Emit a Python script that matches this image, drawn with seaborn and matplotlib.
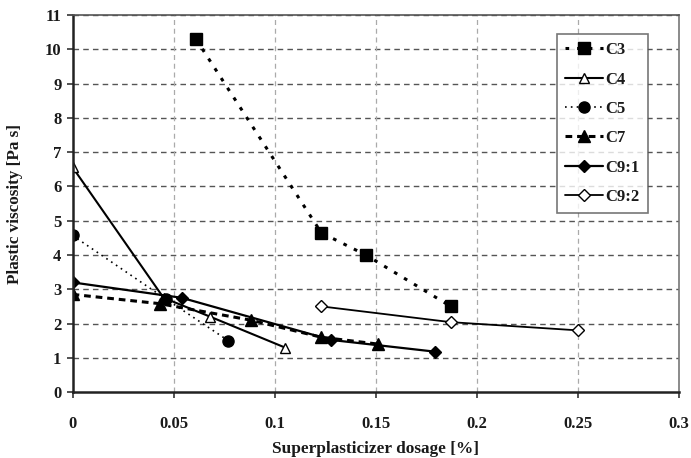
import numpy as np
import pandas as pd
import matplotlib
matplotlib.use("Agg")
import matplotlib.pyplot as plt
import seaborn as sns

# data
c3_x = [0.061, 0.123, 0.145, 0.187]
c3_y = [10.3, 4.65, 4.0, 2.5]

c4_x = [0.0, 0.045, 0.068, 0.105]
c4_y = [6.56, 2.75, 2.2, 1.3]

c5_x = [0.0, 0.046, 0.077]
c5_y = [4.57, 2.72, 1.5]

c7_x = [0.0, 0.043, 0.088, 0.123, 0.151]
c7_y = [2.85, 2.58, 2.1, 1.6, 1.4]

c91_x = [0.0, 0.054, 0.128, 0.179]
c91_y = [3.2, 2.75, 1.52, 1.18]

c92_x = [0.123, 0.187, 0.25]
c92_y = [2.5, 2.04, 1.8]

x_ticks = [0, 0.05, 0.1, 0.15, 0.2, 0.25, 0.3]
x_tick_labels = ["0", "0.05", "0.1", "0.15", "0.2", "0.25", "0.3"]
y_ticks = list(range(0, 12))

sns.set_style("white")
plt.rcParams["font.family"] = ["Liberation Serif", "DejaVu Serif"]
plt.rcParams["font.weight"] = "bold"

txt = "#1a1a1a"

fig = plt.figure(figsize=(6.91, 4.58), dpi=100)
ax = fig.add_axes([0.105, 0.144, 0.878, 0.823])

series = [
    ("C3", c3_x, c3_y, dict(marker="s", markersize=8.5, markerfacecolor="black",
                            linestyle=(0, (1.2, 2.6)), linewidth=2.2)),
    ("C4", c4_x, c4_y, dict(marker="^", markersize=7.5, markerfacecolor="white",
                            linestyle="-", linewidth=1.5)),
    ("C5", c5_x, c5_y, dict(marker="o", markersize=8, markerfacecolor="black",
                            linestyle=(0, (1, 2.5)), linewidth=1.2)),
    ("C7", c7_x, c7_y, dict(marker="^", markersize=8, markerfacecolor="black",
                            linestyle=(0, (2.2, 1.6)), linewidth=2.2)),
    ("C9:1", c91_x, c91_y, dict(marker="D", markersize=6, markerfacecolor="black",
                                linestyle="-", linewidth=1.6)),
    ("C9:2", c92_x, c92_y, dict(marker="D", markersize=6, markerfacecolor="white",
                                linestyle="-", linewidth=1.3)),
]

for name, xs, ys, kw in series:
    df = pd.DataFrame({"x": xs, "y": ys})
    sns.lineplot(data=df, x="x", y="y", ax=ax, color="black", sort=False,
                 markeredgecolor="black", markeredgewidth=1.0, label=name, **kw)

ax.set_xlim(0, 0.3)
ax.set_ylim(0, 11)
ax.set_xticks(x_ticks)
ax.set_xticklabels(x_tick_labels)
ax.set_yticks(y_ticks)

for yv in y_ticks[1:]:
    ax.axhline(yv, color="#555555", linestyle=(0, (4, 3)), linewidth=1.0, zorder=0)
for xv in x_ticks[1:-1]:
    ax.axvline(xv, color="#aaaaaa", linestyle=(0, (4, 3)), linewidth=0.9, zorder=0)

ax.tick_params(axis="both", direction="out", length=4, width=1.2, colors="#333333",
               labelcolor=txt, labelsize=12, pad=4)
ax.tick_params(axis="x", pad=13)
ax.tick_params(left=True, bottom=True)

ax.spines["left"].set_color("#222222")
ax.spines["left"].set_linewidth(1.8)
ax.spines["bottom"].set_color("#222222")
ax.spines["bottom"].set_linewidth(1.8)
ax.spines["top"].set_color("#555555")
ax.spines["top"].set_linewidth(1.2)
ax.spines["right"].set_color("#777777")
ax.spines["right"].set_linewidth(1.2)

for lab in ax.get_xticklabels() + ax.get_yticklabels():
    lab.set_fontweight("bold")

ax.set_xlabel("Superplasticizer dosage [%]", fontsize=12.4, fontweight="bold",
              color=txt, labelpad=7)
ax.set_ylabel("Plastic viscosity [Pa s]", fontsize=12.3, fontweight="bold",
              color=txt, labelpad=16)

leg = ax.legend(loc="upper right", bbox_to_anchor=(0.948, 0.95), frameon=True,
                fancybox=False, edgecolor="#555555", fontsize=12,
                handlelength=2.3, handletextpad=0.1, labelspacing=0.8,
                borderpad=0.5, borderaxespad=0)
leg.get_frame().set_linewidth(1.2)
for t in leg.get_texts():
    t.set_fontweight("bold")
    t.set_color(txt)

fig.savefig("out.png", dpi=100)
